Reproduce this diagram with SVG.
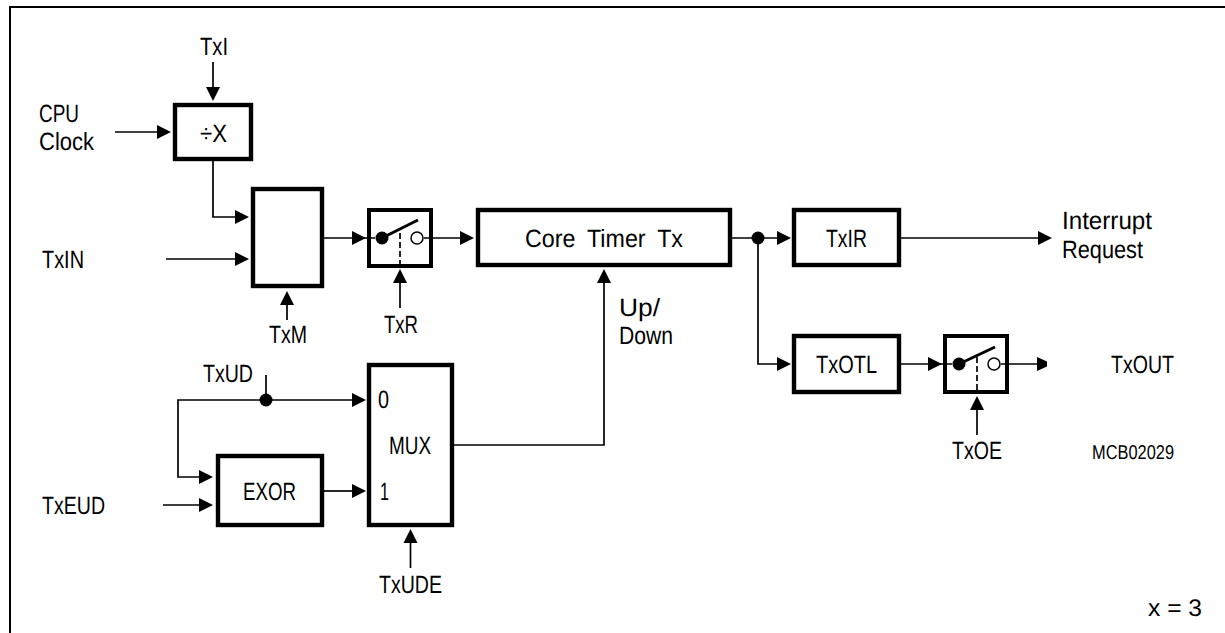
<svg xmlns="http://www.w3.org/2000/svg" width="1225" height="633" viewBox="0 0 1225 633">
<style>
.frame{fill:none;stroke:#000;stroke-width:2}
.box{fill:#fff;stroke:#000;stroke-width:4.4}
.sb{fill:#fff;stroke:#000;stroke-width:4}
.w{fill:none;stroke:#000;stroke-width:1.7}
.h{fill:#000;stroke:none}
.sw{fill:none;stroke:#000;stroke-width:3}
.d{fill:none;stroke:#000;stroke-width:1.7;stroke-dasharray:6 3}
text{font-family:"Liberation Sans",Arial,sans-serif;font-size:25px;fill:#000;text-rendering:geometricPrecision}
.s{font-size:20px}
.x{font-size:24px}
</style>
<defs>
<path id="ar" class="h" d="M0,0L-14,-7V7Z"/>
<path id="au" class="h" d="M0,0L-7,14H7Z"/>
<path id="ad" class="h" d="M0,0L-7,-14H7Z"/>
</defs>
<path class="frame" d="M10,633V7H1225"/>
<g id="divx"><rect class="box" x="175" y="105" width="76" height="54"/><text x="200" y="142" textLength="27" lengthAdjust="spacingAndGlyphs">÷X</text></g>
<g id="sel"><rect class="box" x="253" y="189" width="69" height="97"/></g>
<g id="sw1"><rect class="sb" x="369" y="210" width="62" height="56"/>
<circle class="h" cx="382" cy="238" r="6.500"/><circle cx="417" cy="238" r="6" fill="#fff" stroke="#000" stroke-width="1.500"/><path class="sw" d="M382,238L418,220"/><path class="d" d="M400,233V266"/></g>
<g id="core"><rect class="box" x="478" y="210" width="252" height="55"/><text x="525" y="247" textLength="158" lengthAdjust="spacingAndGlyphs" style="word-spacing:6px">Core Timer Tx</text></g>
<g id="txir"><rect class="box" x="794" y="210" width="105" height="55"/><text x="826" y="247" textLength="41" lengthAdjust="spacingAndGlyphs">TxIR</text></g>
<g id="txotl"><rect class="box" x="794" y="336" width="105" height="56"/><text x="816" y="373" textLength="61" lengthAdjust="spacingAndGlyphs">TxOTL</text></g>
<g id="sw2"><rect class="sb" x="945" y="336" width="62" height="56"/>
<circle class="h" cx="959" cy="364" r="6.500"/><circle cx="994" cy="364" r="6" fill="#fff" stroke="#000" stroke-width="1.500"/><path class="sw" d="M959,364L995,347"/><path class="d" d="M977,357V390"/></g>
<g id="exor"><rect class="box" x="218" y="456" width="104" height="69"/><text x="243" y="500" textLength="53" lengthAdjust="spacingAndGlyphs">EXOR</text></g>
<g id="mux"><rect class="box" x="369" y="365" width="83" height="160"/><text x="378" y="408" textLength="11" lengthAdjust="spacingAndGlyphs">0</text><text x="389" y="454" textLength="42" lengthAdjust="spacingAndGlyphs">MUX</text><text x="380" y="500" textLength="9" lengthAdjust="spacingAndGlyphs">1</text></g>
<g id="connectors">
<path class="w" d="M213,62V88"/><use href="#ad" x="213" y="101"/>
<path class="w" d="M115,132H160"/><use href="#ar" x="171" y="132"/>
<path class="w" d="M213,161V217H238"/><use href="#ar" x="249" y="217"/>
<path class="w" d="M166,259H238"/><use href="#ar" x="249" y="259"/>
<path class="w" d="M287,320V302"/><use href="#au" x="287" y="291"/>
<path class="w" d="M324,238H375"/><use href="#ar" x="366" y="238"/>
<path class="w" d="M400,308V280"/><use href="#au" x="400" y="269"/>
<path class="w" d="M424,238H462"/><use href="#ar" x="474" y="238"/>
<path class="w" d="M266,375V400"/>
<path class="w" d="M354,400H178V477H205"/><use href="#ar" x="366" y="400"/><use href="#ar" x="213" y="477"/>
<path class="w" d="M163,505H205"/><use href="#ar" x="213" y="505"/>
<path class="w" d="M324,491H354"/><use href="#ar" x="366" y="491"/>
<path class="w" d="M410.500,568V540"/><use href="#au" x="410.500" y="529"/>
<path class="w" d="M454,445H604V280"/><use href="#au" x="604" y="269"/>
<path class="w" d="M732,238H780"/><use href="#ar" x="791" y="238"/>
<path class="w" d="M758,238V364H780"/><use href="#ar" x="791" y="364"/>
<path class="w" d="M901,238H1040"/><use href="#ar" x="1052" y="238"/>
<path class="w" d="M901,364H952"/><use href="#ar" x="942" y="364"/>
<path class="w" d="M1001,364H1040"/><path class="h" d="M1037,357L1047,361.500V366.500L1037,371Z"/>
<path class="w" d="M977,435V408"/><use href="#au" x="977" y="396"/>
<circle class="h" cx="266" cy="400" r="6.500"/>
<circle class="h" cx="758" cy="238" r="6.500"/>
</g>
<g id="labels">
<text x="200" y="55" textLength="28" lengthAdjust="spacingAndGlyphs">TxI</text>
<text x="39" y="122" textLength="40" lengthAdjust="spacingAndGlyphs">CPU</text><text x="39" y="150" textLength="55" lengthAdjust="spacingAndGlyphs">Clock</text>
<text x="42" y="268" textLength="42" lengthAdjust="spacingAndGlyphs">TxIN</text>
<text x="269" y="343" textLength="38" lengthAdjust="spacingAndGlyphs">TxM</text>
<text x="384" y="333" textLength="34" lengthAdjust="spacingAndGlyphs">TxR</text>
<text x="203" y="382" textLength="50" lengthAdjust="spacingAndGlyphs">TxUD</text>
<text x="42" y="514" textLength="63" lengthAdjust="spacingAndGlyphs">TxEUD</text>
<text x="379" y="593" textLength="63" lengthAdjust="spacingAndGlyphs">TxUDE</text>
<text x="619" y="316" textLength="41" lengthAdjust="spacingAndGlyphs">Up/</text><text x="619" y="344" textLength="54" lengthAdjust="spacingAndGlyphs">Down</text>
<text x="1062" y="229" textLength="90" lengthAdjust="spacingAndGlyphs">Interrupt</text><text x="1062" y="258" textLength="81" lengthAdjust="spacingAndGlyphs">Request</text>
<text x="1111" y="373" textLength="63" lengthAdjust="spacingAndGlyphs">TxOUT</text>
<text x="952" y="459" textLength="50" lengthAdjust="spacingAndGlyphs">TxOE</text>
<text class="s" x="1092" y="459" textLength="82" lengthAdjust="spacingAndGlyphs">MCB02029</text>
<text class="x" x="1148" y="616" textLength="54" lengthAdjust="spacingAndGlyphs">x = 3</text>
</g>
</svg>
